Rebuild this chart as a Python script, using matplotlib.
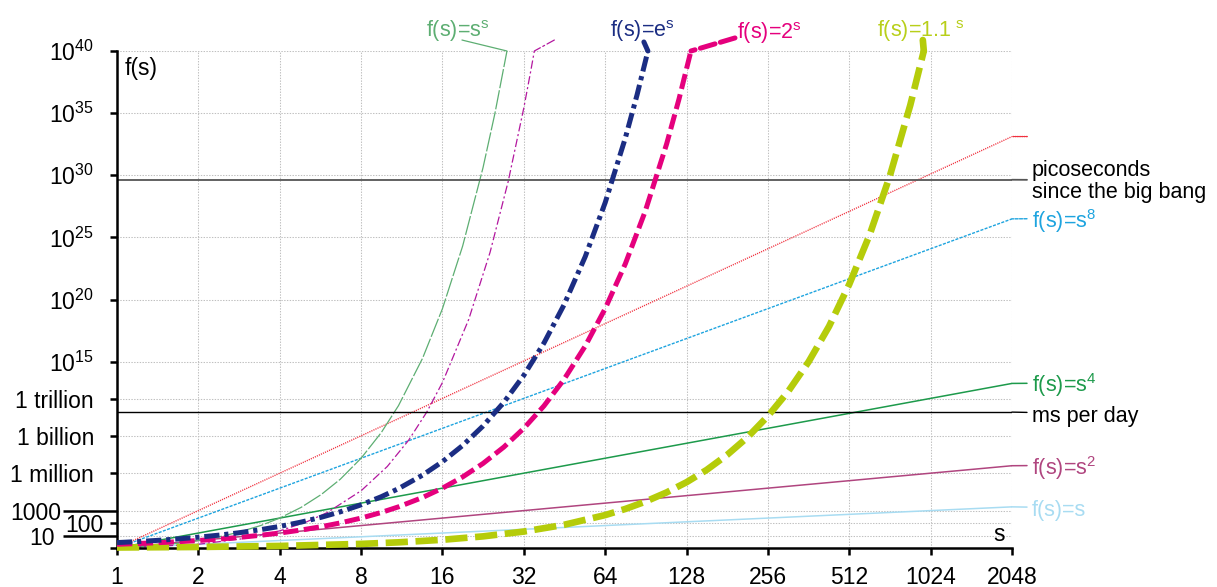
import matplotlib.pyplot as plt
from matplotlib.ticker import NullLocator

plt.rcParams['font.family'] = ['Liberation Sans', 'DejaVu Sans']
plt.rcParams['mathtext.fontset'] = 'custom'
plt.rcParams['mathtext.rm'] = 'Liberation Sans'
plt.rcParams['mathtext.default'] = 'regular'
plt.rcParams['lines.scale_dashes'] = False

# polynomial curves, read at the x ticks
s_pow = [1, 2, 4, 8, 16, 32, 64, 128, 256, 512, 1024, 2048]
f_s1 = [1, 2, 4, 8, 16, 32, 64, 128, 256, 512, 1024, 2048]
f_s2 = [1, 4, 16, 64, 256, 1024, 4096, 16384, 65536, 2.62e5, 1.05e6, 4.19e6]
f_s4 = [1, 16, 256, 4096, 65536, 1.05e6, 1.68e7, 2.68e8, 4.29e9, 6.87e10, 1.10e12, 1.76e13]
f_s8 = [1, 256, 65536, 1.68e7, 4.29e9, 1.10e12, 2.81e14, 7.21e16, 1.84e19, 4.72e21, 1.21e24, 3.09e26]
f_s10 = [1, 1024, 1.05e6, 1.07e9, 1.10e12, 1.13e15, 1.15e18, 1.18e21, 1.21e24, 1.24e27, 1.27e30, 1.30e33]

# s^s
s_ss = [1, 1.2, 1.4, 1.7, 2, 2.4, 2.8, 3.4, 4, 4.8, 5.7, 6.7, 8, 9.5, 11, 13.5, 16, 19, 22.6, 25, 27.72]
f_ss = [1, 1.25, 1.6, 2.46, 4, 8.2, 17.9, 64, 256, 1862, 2.03e4, 3.42e5, 1.68e7, 1.94e9, 2.85e11,
        1.82e15, 1.84e19, 1.98e24, 4.0e30, 8.9e34, 1e40]

# s!
s_fact = [1, 2, 3, 4, 5, 6, 8, 10, 12, 14, 16, 20, 24, 28, 32, 34, 35]
f_fact = [1, 2, 6, 24, 120, 720, 40320, 3.63e6, 4.79e8, 8.72e10, 2.09e13, 2.43e18, 6.2e23,
          3.05e29, 2.63e35, 2.95e38, 1e40]

# e^s
s_e = [1, 1.2, 1.4, 1.7, 2, 2.4, 2.8, 3.4, 4, 4.8, 5.7, 6.7, 8, 9.5, 11, 13.5, 16, 19, 22.6, 27,
       32, 38, 45, 54, 64, 76, 84, 92.1]
f_e = [2.72, 3.32, 4.06, 5.47, 7.39, 11.0, 16.4, 30.0, 54.6, 121.5, 299, 812, 2981, 1.34e4,
       5.99e4, 7.29e5, 8.89e6, 1.78e8, 6.53e9, 5.32e11, 7.9e13, 3.18e16, 3.49e19, 2.83e23,
       6.24e27, 1.01e33, 3.03e36, 1e40]

# 2^s
s_2 = [1, 1.2, 1.4, 1.7, 2, 2.4, 2.8, 3.4, 4, 4.8, 5.7, 6.7, 8, 9.5, 11, 13.5, 16, 19, 22.6, 27,
       32, 38, 45, 54, 64, 76, 90, 108, 120, 132.9]
f_2 = [2, 2.3, 2.64, 3.25, 4, 5.28, 6.96, 10.6, 16, 27.9, 52, 104, 256, 724, 2048, 1.16e4,
       65536, 5.24e5, 6.36e6, 1.34e8, 4.29e9, 2.75e11, 3.52e13, 1.8e16, 1.84e19, 7.56e22,
       1.24e27, 3.25e32, 1.33e36, 1e40]

# 1.1^s
s_11 = [1, 2, 4, 8, 11, 16, 22.6, 32, 45, 64, 76, 90, 108, 128, 152, 181, 215, 256, 304, 362,
        431, 512, 609, 724, 861, 966]
f_11 = [1.1, 1.21, 1.46, 2.14, 2.85, 4.59, 8.62, 21.1, 72.9, 446, 1393, 5313, 2.98e4, 1.97e5,
        1.94e6, 3.16e7, 8.05e8, 4.13e10, 3.88e12, 9.6e14, 6.9e17, 1.69e21, 1.61e25, 9.3e29,
        4.4e35, 1e40]

ps_big_bang = 4.35e29
ms_per_day = 8.64e10

y_major = [1, 1e2, 1e6, 1e9, 1e12, 1e15, 1e20, 1e25, 1e30, 1e35, 1e40]
y_major_labels = ['', '100', '1 million', '1 billion', '1 trillion', '$10^{15}$', '$10^{20}$',
                  '$10^{25}$', '$10^{30}$', '$10^{35}$', '$10^{40}$']
y_minor = [10, 1000]
y_minor_labels = ['10', '1000']

fig = plt.figure(figsize=(12.17, 5.87), dpi=100)
ax = fig.add_axes([117 / 1217, 1 - 548 / 587, 895 / 1217, 497 / 587])
ax.set_xscale('log', base=2)
ax.set_yscale('log')
ax.set_xlim(1, 2048)
ax.set_ylim(1, 1e40)

ax.plot(s_pow, f_s1, color='#a8dcf2', lw=1.1)
ax.plot(s_pow, f_s2, color='#b0457f', lw=1.1)
ax.plot(s_pow, f_s4, color='#1d9a4b', lw=1.1)
ax.plot(s_pow, f_s8, color='#1ea4df', lw=1.0, dashes=(2.2, 1))
ax.plot(s_pow, f_s10, color='#f0303e', lw=1.0, dashes=(0.8, 0.8))
ax.plot(s_ss, f_ss, color='#5dae72', lw=0.9, dashes=(14, 1.5))
ax.plot(s_fact, f_fact, color='#b3179f', lw=0.9, dashes=(6, 2, 1.5, 2))
ax.plot(s_11, f_11, color='#b5cc0a', lw=4.8, dashes=(16, 5.5), clip_on=False, zorder=3)
ax.plot(s_2, f_2, color='#e5007d', lw=3.6, dashes=(11, 4), zorder=3)
ax.plot(s_e, f_e, color='#1b2d83', lw=3.6, dashes=(11, 3.5, 3, 3.5), zorder=3)

ax.axhline(ps_big_bang, color='#555555', lw=1.3)
ax.axhline(ms_per_day, color='black', lw=1.0)


def label(text, xy, off, color, lw=1.0, ls='-', ha='left', va='center', rel=(0, 0.5),
          shrink=3.6, tcolor=None):
    ax.annotate(text, xy=xy, xytext=off, textcoords='offset points', ha=ha, va=va,
                color=tcolor or color, fontsize=15.5, annotation_clip=False,
                arrowprops=dict(arrowstyle='-', color=color, lw=lw, ls=ls, relpos=rel,
                                shrinkA=shrink, shrinkB=0, patchA=None))


def leader(xy, off, color, lw=1.0, ls='-'):
    ax.annotate('', xy=xy, xytext=off, textcoords='offset points', annotation_clip=False,
                arrowprops=dict(arrowstyle='-', color=color, lw=lw, ls=ls,
                                shrinkA=0, shrinkB=0))


def top_text(text, xy, off, color, ha='center'):
    ax.annotate(text, xy=xy, xytext=off, textcoords='offset points', ha=ha, va='baseline',
                color=color, fontsize=15.5, annotation_clip=False)


# right hand labels
label('f(s)=s$^{8}$', (s_pow[-1], f_s8[-1]), (14.4, -1.5), '#1ea4df', ls=(0, (2.2, 1)),
      rel=(0, 0.58))
label('f(s)=s$^{4}$', (s_pow[-1], f_s4[-1]), (14.4, -1.5), '#1d9a4b', lw=1.1, rel=(0, 0.58))
label('f(s)=s$^{2}$', (s_pow[-1], f_s2[-1]), (14.4, -1.5), '#b0457f', lw=1.1, rel=(0, 0.58))
label('f(s)=s', (s_pow[-1], f_s1[-1]), (14.4, -2.5), '#a8dcf2', lw=1.1, rel=(0, 0.65))
leader((s_pow[-1], f_s10[-1]), (11, 0), '#f0303e', ls=(0, (0.8, 0.8)))
label('picoseconds\nsince the big bang', (s_pow[-1], ps_big_bang), (14.4, -1),
      '#555555', lw=1.3, tcolor='black', rel=(0, 0.53))
ax.texts[-1].set_linespacing(1.05)
label('ms per day', (s_pow[-1], ms_per_day), (14.4, -3), 'black', rel=(0, 0.68))

# labels above the top
leader((s_ss[-1], f_ss[-1]), (-32.4, 7.9), '#5dae72', lw=0.9)
top_text('f(s)=s$^{s}$', (s_ss[-1], f_ss[-1]), (-35.3, 10), '#5dae72')
leader((s_fact[-1], f_fact[-1]), (14.4, 7.9), '#b3179f', lw=0.9, ls=(0, (6, 2, 1.5, 2)))
leader((s_e[-1], f_e[-1]), (-2.9, 6.5), '#1b2d83', lw=3.6)
top_text('f(s)=e$^{s}$', (s_e[-1], f_e[-1]), (-4.3, 10), '#1b2d83')
leader((s_2[-1], f_2[-1]), (31.7, 9.4), '#e5007d', lw=3.6, ls=(0, (11, 4)))
top_text('f(s)=2$^{s}$', (s_2[-1], f_2[-1]), (33, 8.6), '#e5007d', ha='left')
leader((s_11[-1], f_11[-1]), (-0.7, 7.9), '#b5cc0a', lw=4.8)
top_text('f(s)=1.1$^{\\ s}$', (s_11[-1], f_11[-1]), (-2, 10), '#b8cf1a')

ax.set_xticks(s_pow, [str(v) for v in s_pow])
ax.xaxis.set_minor_locator(NullLocator())
ax.set_yticks(y_major, y_major_labels)
ax.set_yticks(y_minor, y_minor_labels, minor=True)

ax.tick_params(axis='both', which='major', direction='out', length=5, width=1.8,
               labelsize=16.5, color='black')
ax.tick_params(axis='x', pad=8)
ax.tick_params(axis='y', which='major', pad=11.5)
ax.tick_params(axis='y', which='minor', length=39, width=1.8, pad=1.5, labelsize=16.5)
ax.yaxis.get_major_ticks()[1].set_pad(5)
ax.yaxis.get_minor_ticks()[0].set_pad(5.8)

ax.grid(True, which='both', color='#c0c0c0', lw=0.75, ls=(0, (1, 1)))
ax.set_axisbelow(True)
for side in ('top', 'right'):
    ax.spines[side].set_visible(False)
for side in ('left', 'bottom'):
    ax.spines[side].set_linewidth(1.8)

ax.text(0.009, 0.988, 'f(s)', transform=ax.transAxes, fontsize=16.5, va='top')
ax.text(0.992, 0.014, 's', transform=ax.transAxes, fontsize=16.5, ha='right', va='baseline')

fig.savefig('out.png', dpi=100)
